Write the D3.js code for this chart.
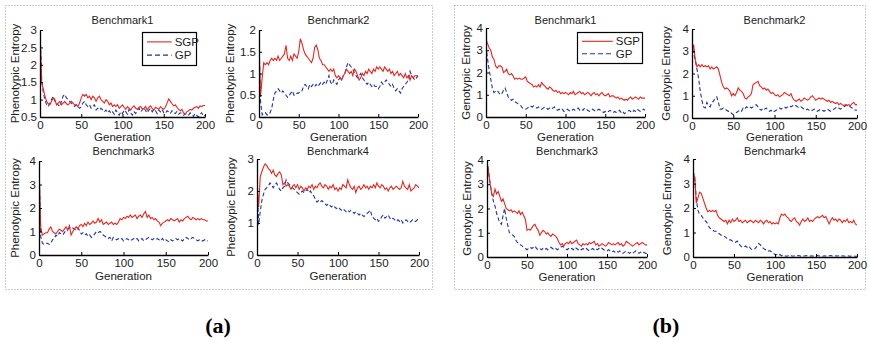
<!DOCTYPE html>
<html>
<head>
<meta charset="utf-8">
<script src="https://cdn.jsdelivr.net/npm/d3@7"></script>
<style>
  body { margin: 0; background: #fff; }
  svg { display: block; }
  text { font-family: "Liberation Sans", Arial, sans-serif; fill: #222; }
</style>
</head>
<body>
<svg id="chart" width="869" height="342"></svg>
<script>
// generations sampled every 2 steps
const gens = d3.range(0, 201, 2);

const titles = ["Benchmark1", "Benchmark2", "Benchmark3", "Benchmark4",
                "Benchmark1", "Benchmark2", "Benchmark3", "Benchmark4"];
const yLabels = ["Phenotypic Entropy", "Genotypic Entropy"];
const seriesNames = ["SGP", "GP"];
const panelLabels = ["(a)", "(b)"];
const xTicks = [0, 50, 100, 150, 200];

// phenotypic entropy
const phenSgp1 = [3.0,1.5,1.3,1.1,0.95,0.88,0.85,0.95,1.05,1.0,
  0.85,0.9,0.95,0.85,0.9,0.95,0.88,0.85,0.9,0.95,
  0.9,0.85,0.85,0.8,0.9,1.05,1.15,1.1,1.15,1.05,
  1.1,1.0,1.1,1.05,0.95,1.05,1.1,1.0,0.95,0.9,
  1.0,0.95,0.85,0.9,0.8,0.85,0.8,0.85,0.75,0.8,
  0.85,0.78,0.72,0.8,0.75,0.7,0.78,0.82,0.75,0.72,
  0.78,0.8,0.72,0.75,0.8,0.7,0.78,0.82,0.75,0.7,
  0.78,0.75,0.72,0.8,0.75,0.72,0.78,0.9,1.02,0.95,
  0.88,0.82,0.85,0.78,0.72,0.68,0.72,0.62,0.58,0.65,
  0.68,0.72,0.7,0.75,0.78,0.8,0.75,0.82,0.8,0.83,
  0.83];
const phenGp1 = [3.0,1.6,1.2,1.0,0.85,0.8,0.9,1.0,1.1,0.95,
  0.9,0.85,0.8,0.95,1.1,1.15,1.05,1.0,0.95,0.9,
  0.85,0.8,0.85,0.8,0.75,0.8,0.9,0.95,0.85,0.8,
  0.85,0.75,0.8,0.85,0.7,0.75,0.7,0.75,0.7,0.65,
  0.7,0.62,0.68,0.6,0.65,0.58,0.7,0.62,0.55,0.65,
  0.6,0.7,0.65,0.58,0.72,0.62,0.55,0.65,0.6,0.7,
  0.75,0.65,0.7,0.78,0.68,0.62,0.7,0.75,0.65,0.72,
  0.68,0.6,0.7,0.65,0.72,0.62,0.6,0.68,0.65,0.6,
  0.68,0.62,0.6,0.66,0.58,0.62,0.6,0.55,0.6,0.58,
  0.55,0.62,0.58,0.52,0.6,0.55,0.5,0.58,0.62,0.52,
  0.55];
const phenSgp2 = [1.55,0.5,0.9,1.25,1.2,1.25,1.2,1.3,1.35,1.3,
  1.35,1.3,1.4,1.3,1.35,1.4,1.45,1.65,1.35,1.3,
  1.4,1.3,1.45,1.4,1.35,1.5,1.8,1.7,1.55,1.45,
  1.4,1.35,1.3,1.25,1.35,1.6,1.65,1.55,1.35,1.3,
  1.2,1.2,1.15,1.1,1.05,1.1,1.05,1.1,0.95,0.9,
  0.95,0.9,0.85,0.95,1.0,1.1,1.05,1.0,1.05,0.95,
  1.1,1.05,0.95,0.85,0.9,1.0,0.95,1.05,1.0,1.1,
  1.05,1.0,1.1,1.05,1.15,1.1,1.15,1.1,1.05,1.15,
  1.1,1.05,1.1,1.0,1.05,0.95,1.0,1.05,0.95,1.0,
  0.95,0.9,1.0,0.9,0.95,0.85,0.95,0.9,0.95,0.95,
  0.95];
const phenGp2 = [1.75,0.35,0.05,0.1,0.1,0.05,0.05,0.1,0.2,0.4,
  0.55,0.6,0.65,0.6,0.55,0.6,0.55,0.5,0.45,0.5,
  0.55,0.6,0.5,0.5,0.55,0.55,0.6,0.6,0.7,0.75,
  0.7,0.65,0.75,0.7,0.75,0.7,0.75,0.7,0.75,0.8,
  0.75,0.8,0.75,0.85,0.95,0.8,0.75,0.85,0.8,0.75,
  0.85,0.9,0.85,0.95,1.0,1.15,1.25,1.2,1.15,1.1,
  1.0,0.95,0.9,0.95,1.0,0.9,0.85,0.8,0.75,0.8,
  0.75,0.7,0.75,0.7,0.7,0.65,0.7,0.8,0.75,0.8,
  0.85,0.8,0.75,0.7,0.75,0.65,0.6,0.65,0.6,0.55,
  0.65,0.7,0.75,0.8,0.85,1.05,0.95,0.9,0.85,0.9,
  0.95];
const phenSgp3 = [3.9,1.2,0.85,0.9,0.95,0.95,1.1,1.2,1.0,0.95,
  0.9,1.0,1.1,1.05,1.0,1.1,1.2,1.05,1.25,0.85,
  1.0,1.1,1.2,1.1,1.25,1.3,1.2,1.35,1.25,1.4,
  1.3,1.35,1.45,1.35,1.4,1.55,1.4,1.5,1.3,1.35,
  1.4,1.3,1.35,1.4,1.3,1.35,1.3,1.4,1.55,1.5,
  1.6,1.55,1.65,1.6,1.7,1.6,1.65,1.7,1.55,1.65,
  1.7,1.6,1.75,1.85,1.6,1.7,1.55,1.6,1.5,1.55,
  1.45,1.4,1.25,1.35,1.4,1.45,1.5,1.45,1.55,1.5,
  1.45,1.5,1.55,1.4,1.5,1.45,1.55,1.6,1.65,1.55,
  1.5,1.6,1.55,1.5,1.55,1.5,1.55,1.5,1.5,1.45,
  1.45];
const phenGp3 = [3.9,0.8,0.5,0.45,0.5,0.5,0.45,0.5,0.65,0.7,
  0.85,0.8,0.95,0.9,0.85,0.95,1.05,1.1,1.15,1.2,
  1.15,1.1,1.05,1.15,1.05,0.9,0.95,0.85,0.9,0.8,
  0.85,0.75,0.8,0.9,1.0,0.95,1.0,0.95,0.85,0.8,
  0.75,0.7,0.75,0.6,0.75,0.7,0.65,0.7,0.65,0.7,
  0.6,0.65,0.7,0.65,0.6,0.65,0.7,0.65,0.7,0.6,
  0.65,0.7,0.6,0.65,0.7,0.75,0.7,0.65,0.7,0.65,
  0.7,0.65,0.6,0.7,0.6,0.65,0.6,0.55,0.65,0.6,
  0.65,0.7,0.65,0.7,0.65,0.6,0.7,0.75,0.7,0.65,
  0.7,0.75,0.7,0.65,0.6,0.65,0.6,0.6,0.65,0.6,
  0.6];
const phenSgp4 = [2.2,1.5,2.45,2.6,2.75,2.85,2.8,2.7,2.65,2.55,
  2.65,2.5,2.45,2.55,2.6,2.5,2.2,2.25,2.15,2.2,
  2.15,2.05,2.15,2.2,2.1,2.2,2.05,2.15,2.1,2.0,
  2.1,2.05,2.15,2.1,2.2,2.05,2.15,2.1,2.2,2.25,
  2.15,2.1,2.2,2.15,2.05,2.15,2.1,2.2,2.05,2.1,
  2.0,2.1,2.05,2.2,2.15,2.1,2.35,2.2,2.1,2.05,
  2.15,1.95,2.1,2.15,2.05,2.1,2.2,2.1,2.15,2.05,
  2.15,2.1,2.2,2.1,2.25,2.15,2.1,2.2,2.15,2.05,
  2.1,2.0,2.1,2.15,2.05,2.1,2.15,2.1,2.05,2.1,
  2.3,2.15,2.1,2.05,2.2,2.0,2.05,2.1,2.2,2.15,
  2.1];
const phenGp4 = [2.7,0.95,1.35,1.7,1.9,2.05,2.1,2.15,2.25,2.2,
  2.1,2.2,2.25,2.15,2.05,2.0,2.1,2.15,2.35,2.25,
  2.2,2.15,2.1,2.05,2.0,1.95,1.9,1.95,2.0,1.95,
  2.0,2.05,1.95,2.0,1.9,1.85,1.75,1.65,1.7,1.65,
  1.7,1.65,1.6,1.55,1.6,1.55,1.5,1.55,1.5,1.45,
  1.5,1.45,1.4,1.45,1.4,1.35,1.4,1.35,1.4,1.35,
  1.3,1.35,1.3,1.25,1.3,1.25,1.2,1.25,1.3,1.35,
  1.4,1.2,1.15,1.1,1.15,1.05,1.1,1.2,1.25,1.15,
  1.2,1.25,1.15,1.1,1.15,1.1,1.05,1.1,1.05,1.1,
  1.0,1.05,1.1,1.05,1.0,1.05,1.1,1.05,1.05,1.1,
  1.05];

// genotypic entropy
const genoSgp1 = [3.5,3.3,3.1,3.0,2.7,2.6,2.3,2.2,2.3,2.3,
  2.25,2.0,2.05,2.15,1.95,1.9,1.95,1.85,1.7,1.75,
  1.7,1.75,1.7,1.7,1.75,1.8,1.6,1.55,1.5,1.45,
  1.35,1.4,1.35,1.45,1.35,1.55,1.45,1.4,1.3,1.25,
  1.35,1.3,1.2,1.15,1.2,1.1,1.15,1.05,1.1,1.05,
  1.1,1.05,1.0,1.1,1.05,1.15,1.0,1.05,1.1,1.15,
  1.05,1.1,1.0,1.05,1.1,1.05,0.95,1.05,1.1,1.0,
  1.05,0.95,1.05,1.1,1.0,0.95,1.0,1.05,0.9,0.95,
  0.95,0.9,0.85,0.9,0.8,0.85,0.8,0.75,0.8,0.75,
  0.85,0.9,0.8,0.85,0.9,0.85,0.8,0.9,0.85,0.85,
  0.85];
const genoGp1 = [3.2,2.6,2.1,1.7,1.3,1.1,1.15,1.2,1.1,1.0,
  1.05,1.2,1.3,1.1,0.9,0.8,0.75,0.8,0.7,0.65,
  0.6,0.55,0.5,0.4,0.35,0.35,0.4,0.45,0.5,0.45,
  0.5,0.45,0.4,0.45,0.4,0.35,0.4,0.45,0.4,0.35,
  0.4,0.35,0.4,0.45,0.35,0.3,0.35,0.3,0.35,0.25,
  0.3,0.35,0.3,0.25,0.3,0.35,0.3,0.35,0.4,0.3,
  0.35,0.3,0.4,0.35,0.3,0.25,0.3,0.35,0.3,0.25,
  0.3,0.35,0.3,0.25,0.2,0.25,0.2,0.25,0.3,0.25,
  0.2,0.25,0.2,0.25,0.3,0.2,0.25,0.15,0.2,0.25,
  0.3,0.25,0.2,0.3,0.25,0.35,0.3,0.25,0.3,0.35,
  0.3];
const genoSgp2 = [3.0,3.3,2.6,2.3,2.4,2.3,2.4,2.3,2.35,2.3,
  2.35,2.2,2.3,2.2,2.25,2.3,2.2,1.9,1.6,1.4,
  1.3,1.35,1.3,1.2,1.0,1.1,1.0,1.15,1.35,1.25,
  1.2,1.1,0.9,0.85,0.95,1.0,1.1,1.5,1.55,1.6,
  1.65,1.45,1.4,1.3,1.35,1.25,1.3,1.2,1.1,1.15,
  1.05,1.0,1.05,0.95,1.0,1.05,1.15,1.1,1.05,1.0,
  1.1,0.9,0.8,0.75,0.8,0.85,0.75,0.8,0.9,0.85,
  0.8,0.85,0.95,1.0,0.9,0.8,0.85,0.9,0.85,0.9,
  0.85,0.8,0.75,0.8,0.7,0.75,0.7,0.65,0.7,0.6,
  0.65,0.6,0.55,0.6,0.55,0.6,0.55,0.65,0.7,0.6,
  0.6];
const genoGp2 = [3.4,2.9,2.6,2.2,1.8,1.2,0.8,0.5,0.45,0.7,
  0.55,0.5,0.7,0.75,0.9,0.95,0.7,0.4,0.4,0.45,
  0.4,0.35,0.3,0.3,0.2,0.15,0.2,0.25,0.3,0.35,
  0.3,0.45,0.4,0.5,0.45,0.5,0.45,0.5,0.55,0.6,
  0.5,0.4,0.35,0.45,0.4,0.45,0.35,0.3,0.35,0.25,
  0.3,0.35,0.4,0.45,0.4,0.45,0.5,0.45,0.5,0.55,
  0.5,0.55,0.6,0.55,0.5,0.45,0.5,0.45,0.4,0.35,
  0.4,0.35,0.3,0.35,0.4,0.35,0.3,0.35,0.4,0.35,
  0.3,0.35,0.4,0.35,0.3,0.35,0.4,0.45,0.5,0.45,
  0.4,0.45,0.5,0.55,0.6,0.55,0.5,0.45,0.4,0.35,
  0.35];
const genoSgp3 = [3.9,3.5,3.0,2.6,2.5,2.8,2.6,2.7,2.5,2.3,
  2.4,2.2,2.0,1.95,1.9,1.95,1.85,1.9,1.85,1.8,
  1.9,1.75,1.85,1.7,1.55,1.1,1.15,1.1,1.2,1.3,
  1.35,1.2,1.1,0.9,1.0,1.1,1.05,0.95,1.0,0.9,
  0.85,0.95,0.9,0.85,0.75,0.6,0.5,0.55,0.45,0.55,
  0.6,0.55,0.65,0.55,0.6,0.65,0.7,0.55,0.5,0.45,
  0.55,0.5,0.55,0.5,0.6,0.55,0.6,0.65,0.5,0.55,
  0.45,0.5,0.55,0.5,0.45,0.5,0.6,0.55,0.5,0.55,
  0.5,0.55,0.6,0.5,0.55,0.45,0.5,0.65,0.6,0.55,
  0.5,0.45,0.5,0.55,0.6,0.5,0.55,0.6,0.55,0.5,
  0.5];
const genoGp3 = [4.0,3.5,3.0,2.6,2.3,2.1,1.8,1.6,1.4,1.35,
  1.7,2.0,1.6,1.3,1.0,0.95,0.9,0.85,0.7,0.6,
  0.55,0.5,0.45,0.4,0.35,0.3,0.35,0.4,0.35,0.4,
  0.45,0.35,0.3,0.35,0.3,0.35,0.3,0.35,0.3,0.35,
  0.4,0.35,0.3,0.35,0.3,0.35,0.4,0.45,0.4,0.35,
  0.3,0.35,0.3,0.35,0.3,0.4,0.35,0.3,0.35,0.3,
  0.35,0.3,0.35,0.3,0.25,0.3,0.35,0.3,0.35,0.3,
  0.35,0.4,0.35,0.3,0.25,0.25,0.3,0.25,0.2,0.25,
  0.2,0.25,0.2,0.25,0.2,0.15,0.2,0.25,0.2,0.15,
  0.2,0.15,0.2,0.25,0.2,0.15,0.2,0.15,0.2,0.15,
  0.15];
const genoSgp4 = [3.3,3.3,2.2,2.4,2.65,2.6,2.4,2.2,2.0,1.85,
  1.9,1.85,1.9,1.85,1.9,1.7,1.6,1.55,1.5,1.45,
  1.5,1.35,1.5,1.4,1.55,1.45,1.5,1.6,1.45,1.5,
  1.4,1.45,1.5,1.4,1.45,1.5,1.45,1.4,1.5,1.45,
  1.4,1.5,1.45,1.35,1.45,1.5,1.4,1.45,1.35,1.4,
  1.35,1.4,1.35,1.6,1.75,1.7,1.75,1.65,1.6,1.5,
  1.45,1.55,1.6,1.45,1.4,1.3,1.45,1.55,1.45,1.5,
  1.6,1.45,1.5,1.45,1.55,1.6,1.65,1.6,1.65,1.7,
  1.6,1.65,1.5,1.35,1.5,1.6,1.5,1.55,1.45,1.55,
  1.5,1.4,1.5,1.45,1.55,1.4,1.45,1.4,1.5,1.35,
  1.3];
const genoGp4 = [3.5,3.3,2.4,1.9,1.75,1.7,1.6,1.5,1.45,1.35,
  1.2,1.15,1.1,1.05,1.05,1.0,0.95,0.9,0.85,0.85,
  0.8,0.75,0.7,0.7,0.65,0.65,0.6,0.65,0.55,0.45,
  0.4,0.4,0.45,0.4,0.45,0.35,0.3,0.3,0.35,0.45,
  0.55,0.5,0.4,0.35,0.3,0.3,0.25,0.25,0.2,0.15,
  0.1,0.1,0.05,0.1,0.05,0.08,0.05,0.03,0.05,0.08,
  0.05,0.03,0.05,0.04,0.06,0.05,0.03,0.05,0.04,0.06,
  0.05,0.03,0.05,0.04,0.03,0.05,0.06,0.04,0.05,0.03,
  0.05,0.04,0.03,0.05,0.06,0.04,0.03,0.05,0.04,0.05,
  0.03,0.05,0.04,0.03,0.05,0.04,0.03,0.04,0.05,0.03,
  0.03];

const sgpSeries = [phenSgp1, phenSgp2, phenSgp3, phenSgp4, genoSgp1, genoSgp2, genoSgp3, genoSgp4];
const gpSeries  = [phenGp1, phenGp2, phenGp3, phenGp4, genoGp1, genoGp2, genoGp3, genoGp4];
const yDomains = [[0.5, 3], [0, 2], [0, 4], [0, 3], [0, 4], [0, 4], [0, 4], [0, 4]];
const yTickSets = [[0.5, 1, 1.5, 2, 2.5, 3], [0, 0.5, 1, 1.5, 2], [0, 1, 2, 3, 4], [0, 1, 2, 3],
                   [0, 1, 2, 3, 4], [0, 1, 2, 3, 4], [0, 1, 2, 3, 4], [0, 1, 2, 3, 4]];

// layout: pixel box of each axes, y-label x, title and x-label baselines
const boxes = [
  {l: 40,  r: 205, t: 30,  b: 117, yl: 15,  ty: 24,  gy: 141},
  {l: 259, r: 418, t: 30,  b: 117, yl: 230, ty: 24,  gy: 141},
  {l: 39,  r: 208, t: 161, b: 255, yl: 15,  ty: 155, gy: 280},
  {l: 257, r: 419, t: 159, b: 255, yl: 231, ty: 155, gy: 280},
  {l: 486, r: 645, t: 28,  b: 117, yl: 466, ty: 24,  gy: 141},
  {l: 692, r: 857, t: 29,  b: 118, yl: 666, ty: 24,  gy: 141},
  {l: 487, r: 647, t: 160, b: 257, yl: 467, ty: 155, gy: 281},
  {l: 693, r: 857, t: 159, b: 257, yl: 667, ty: 155, gy: 281}
];
const legends = [{i: 0, x: 142, y: 32, w: 54, h: 33}, {i: 4, x: 577, y: 32, w: 65, h: 31}];

const RED = "#e8261e", BLUE = "#1f35a8";
const svg = d3.select("#chart");

// dotted frames around the two groups
svg.selectAll(".frame")
  .data([[5, 5, 427, 284], [454, 5, 411, 284]])
  .enter().append("rect")
    .attr("x", d => d[0] + 0.5).attr("y", d => d[1] + 0.5)
    .attr("width", d => d[2]).attr("height", d => d[3])
    .attr("fill", "none").attr("stroke", "#9a9a9a")
    .attr("stroke-width", 1).attr("stroke-dasharray", "1,2");

svg.selectAll(".plabel")
  .data(panelLabels)
  .enter().append("text")
    .attr("x", (d, i) => i === 0 ? 218 : 666)
    .attr("y", 333)
    .attr("text-anchor", "middle")
    .style("font-family", "'Liberation Serif', 'Times New Roman', serif")
    .style("font-weight", "bold")
    .style("font-size", "22px")
    .style("fill", "#000")
    .text(d => d);

boxes.forEach((bx, i) => {
  let x = d3.scaleLinear().domain([0, 200]).range([bx.l, bx.r]);
  let y = d3.scaleLinear().domain(yDomains[i]).range([bx.b, bx.t]);
  let g = svg.append("g");

  g.append("clipPath").attr("id", "clip" + i)
    .append("rect").attr("x", bx.l).attr("y", bx.t - 1)
    .attr("width", bx.r - bx.l + 1).attr("height", bx.b - bx.t + 2);

  let line = d3.line().x((d, k) => x(gens[k])).y(d => y(d));

  g.append("path").datum(gpSeries[i])
    .attr("clip-path", "url(#clip" + i + ")")
    .attr("fill", "none").attr("stroke", BLUE).attr("stroke-width", 1.1)
    .attr("stroke-dasharray", "4,2.5")
    .attr("d", line);

  g.append("path").datum(sgpSeries[i])
    .attr("clip-path", "url(#clip" + i + ")")
    .attr("fill", "none").attr("stroke", RED).attr("stroke-width", 1.1)
    .attr("d", line);

  let xAxis = g.append("g")
    .attr("transform", `translate(0,${bx.b})`)
    .call(d3.axisBottom(x).tickValues(xTicks).tickSizeInner(-3).tickSizeOuter(0).tickPadding(4));
  let yAxis = g.append("g")
    .attr("transform", `translate(${bx.l},0)`)
    .call(d3.axisLeft(y).tickValues(yTickSets[i]).tickFormat(d => String(d))
      .tickSizeInner(-3).tickSizeOuter(0).tickPadding(3));

  [xAxis, yAxis].forEach(a => {
    a.select(".domain").attr("stroke", "#000").attr("stroke-width", 1.3);
    a.selectAll(".tick line").attr("stroke", "#000");
    a.selectAll("text").style("font-size", "11.5px").style("fill", "#222")
      .style("font-family", "'Liberation Sans', Arial, sans-serif");
  });

  g.append("text")
    .attr("x", (bx.l + bx.r) / 2).attr("y", bx.ty)
    .attr("text-anchor", "middle").style("font-size", "11px")
    .text(titles[i]);

  g.append("text")
    .attr("x", (bx.l + bx.r) / 2).attr("y", bx.gy)
    .attr("text-anchor", "middle").style("font-size", "11.5px")
    .text("Generation");

  g.append("text")
    .attr("transform", `translate(${bx.yl},${(bx.t + bx.b) / 2}) rotate(-90)`)
    .attr("text-anchor", "middle").attr("dy", "0.35em")
    .style("font-size", "11.5px")
    .text(yLabels[i < 4 ? 0 : 1]);
});

// legends
legends.forEach(lg => {
  let g = svg.append("g").attr("transform", `translate(${lg.x},${lg.y})`);
  g.append("rect").attr("x", 0.5).attr("y", 0.5).attr("width", lg.w).attr("height", lg.h)
    .attr("fill", "#fff").attr("stroke", "#000").attr("stroke-width", 1.2);
  let rows = g.selectAll(".row").data(seriesNames).enter().append("g")
    .attr("transform", (d, k) => `translate(0,${lg.h * (k === 0 ? 0.3 : 0.7)})`);
  rows.append("line")
    .attr("x1", 5).attr("x2", lg.w * 0.55)
    .attr("stroke", (d, k) => k === 0 ? RED : BLUE)
    .attr("stroke-width", 1.1)
    .attr("stroke-dasharray", (d, k) => k === 0 ? null : "5,3");
  rows.append("text")
    .attr("x", lg.w * 0.55 + 3).attr("dy", "0.36em")
    .style("font-size", "11.5px")
    .text(d => d);
});
</script>
</body>
</html>
